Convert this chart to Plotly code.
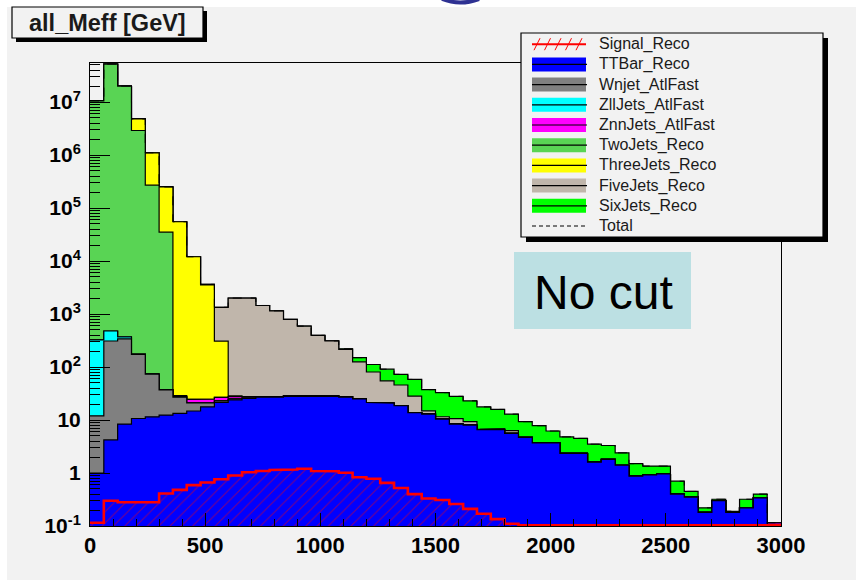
import numpy as np
import plotly.graph_objects as go

# 50 bins of 60 GeV on all_Meff
bin_edges = np.arange(0, 3001, 60)

signal_reco = [0.115, 0.30, 0.28, 0.28, 0.28, 0.41, 0.48, 0.59, 0.66, 0.76,
               0.90, 1.03, 1.09, 1.14, 1.16, 1.20, 1.09, 1.08, 1.01, 0.83,
               0.78, 0.65, 0.52, 0.40, 0.33, 0.31, 0.26, 0.21, 0.17, 0.135,
               0.11, 0.05, 0.03, 0, 0, 0, 0, 0, 0, 0,
               0, 0, 0, 0, 0, 0, 0, 0, 0, 0]
ttbar_reco = [0.885, 3.9, 8.1, 10.4, 11.2, 12.0, 12.8, 14.2, 17.1, 20.7,
              23.1, 24.5, 25.9, 25.9, 26.8, 26.3, 26.4, 26.9, 26.0, 24.2,
              20.7, 20.2, 18.2, 13.4, 12.6, 10.1, 8.1, 7.8, 6.4, 6.5,
              5.5, 4.65, 3.67, 3.7, 2.35, 2.35, 1.6, 1.8, 1.4, 0.87,
              0.92, 0.96, 0.40, 0.35, 0.18, 0.30, 0.18, 0.22, 0.34, 0]
wnjet_atlfast = [11, 305, 332, 163, 61.5, 24.6, 13.7, 6.2, 3.2, 1.5,
                 1.0, 0.5, 0.3, 0.2, 0.2, 0.2, 0.2, 0.2, 0.2, 0,
                 0, 0, 0, 0, 0, 0, 0, 0, 0, 0,
                 0, 0, 0, 0, 0, 0, 0, 0, 0, 0,
                 0, 0, 0, 0, 0, 0, 0, 0, 0, 0]
zlljets_atlfast = [312, 169, 30, 2, 1, 0.5, 0.3, 0.2, 0.2, 0.2,
                   0.2, 0.2, 0.2, 0, 0, 0, 0, 0, 0, 0,
                   0, 0, 0, 0, 0, 0, 0, 0, 0, 0,
                   0, 0, 0, 0, 0, 0, 0, 0, 0, 0,
                   0, 0, 0, 0, 0, 0, 0, 0, 0, 0]
znnjets_atlfast = [0, 0, 0, 0, 0, 0, 0.5, 3.3, 3.5, 3.5,
                   2.5, 1.5, 1.0, 0.5, 0.5, 0.5, 0.5, 0.5, 0.5, 0,
                   0, 0, 0, 0, 0, 0, 0, 0, 0, 0,
                   0, 0, 0, 0, 0, 0, 0, 0, 0, 0,
                   0, 0, 0, 0, 0, 0, 0, 0, 0, 0.115]
twojets_reco = [1.05e7, 5.2e7, 2.0e7, 2.9e6, 2.7e5, 3.5e4, 1, 0, 0, 0,
                0, 0, 0, 0, 0, 0, 0, 0, 0, 0,
                0, 0, 0, 0, 0, 0, 0, 0, 0, 0,
                0, 0, 0, 0, 0, 0, 0, 0, 0, 0,
                0, 0, 0, 0, 0, 0, 0, 0, 0, 0]
threejets_reco = [0, 0, 0, 1.9e6, 8.3e5, 2.15e5, 5.5e4, 1.2e4, 3.5e3, 282,
                  1, 0, 0, 0, 0, 0, 0, 0, 0, 0,
                  0, 0, 0, 0, 0, 0, 0, 0, 0, 0,
                  0, 0, 0, 0, 0, 0, 0, 0, 0, 0,
                  0, 0, 0, 0, 0, 0, 0, 0, 0, 0]
fivejets_reco = [0, 0, 0, 0, 0, 0, 0, 0, 100, 1030,
                 1970, 1970, 1420, 1120, 760, 562, 367, 282, 188, 100,
                 59, 34, 27, 14.5, 2.0, 1.1, 2.3, 1.3, 0.1, 0.1,
                 0.7, 0, 0, 0, 0, 0, 0, 0, 0, 0,
                 0, 0, 0, 0, 0, 0, 0, 0, 0, 0]
sixjets_reco = [0, 0, 0, 0, 0, 0, 0, 0, 0, 0,
                0, 0, 0, 0, 0, 0, 0, 0, 5, 25,
                31, 36, 27, 30, 22.5, 21.3, 17.3, 13.7, 11, 9.1,
                6.6, 4.6, 4.1, 2.5, 2.45, 2.15, 1.9, 1.5, 1.0, 0.63,
                0.43, 0.39, 0.3, 0.1, 0.04, 0.02, 0.01, 0.1, 0.06, 0]

series_names = ["Signal_Reco", "TTBar_Reco", "Wnjet_AtlFast", "ZllJets_AtlFast",
                "ZnnJets_AtlFast", "TwoJets_Reco", "ThreeJets_Reco",
                "FiveJets_Reco", "SixJets_Reco"]
series_colors = ["#ff0000", "#0000ff", "#808080", "#00ffff", "#ff00ff",
                 "#59d454", "#ffff00", "#c0b6ab", "#00ff00"]
series_values = [signal_reco, ttbar_reco, wnjet_atlfast, zlljets_atlfast,
                 znnjets_atlfast, twojets_reco, threejets_reco, fivejets_reco,
                 sixjets_reco]

y_tick_vals = [0.1, 1, 10, 1e2, 1e3, 1e4, 1e5, 1e6, 1e7]
y_tick_text = ["10<sup>-1</sup>", "1", "10", "10<sup>2</sup>", "10<sup>3</sup>",
               "10<sup>4</sup>", "10<sup>5</sup>", "10<sup>6</sup>", "10<sup>7</sup>"]
x_tick_vals = [0, 500, 1000, 1500, 2000, 2500, 3000]

Y_LOG_MIN, Y_LOG_MAX = -1.0, 7.736
BG = "#f2f2f2"
FONT = "Liberation Sans, Arial, Helvetica, sans-serif"

cumulative = np.cumsum(np.array(series_values, dtype=float), axis=0)
total = cumulative[-1]

step_x = np.repeat(bin_edges, 2)[1:-1]


def step_y(vals):
    return np.repeat(np.asarray(vals, dtype=float), 2)


fig = go.Figure()
floor_fill = 1e-4
floor_line = 10 ** (Y_LOG_MIN + 0.012)

# THStack style: draw the tallest cumulative first, each lower one on top
for i in range(len(series_names) - 1, -1, -1):
    ys = step_y(cumulative[i])
    px_ = np.concatenate([step_x, [bin_edges[-1], bin_edges[0]]])
    py_ = np.concatenate([np.maximum(ys, floor_fill), [floor_fill, floor_fill]])
    if i == 0:
        fig.add_trace(go.Scatter(
            x=px_, y=py_, mode="none", fill="toself",
            fillcolor="rgba(0,0,0,0)",
            fillpattern=dict(shape="/", fgcolor="#ff0000", bgcolor="rgba(0,0,0,0)",
                             size=8, solidity=0.13),
            hoverinfo="skip", showlegend=False))
        line = dict(color="#ff0000", width=2.6)
    else:
        fig.add_trace(go.Scatter(
            x=px_, y=py_, mode="none", fill="toself",
            fillcolor=series_colors[i], hoverinfo="skip", showlegend=False))
        line = dict(color="black", width=1.2)
    fig.add_trace(go.Scatter(
        x=step_x, y=np.maximum(ys, floor_line), mode="lines", line=line,
        name=series_names[i], showlegend=False))

fig.add_trace(go.Scatter(
    x=step_x, y=np.maximum(step_y(total), floor_line), mode="lines",
    line=dict(color="black", width=1, dash="dash"), name="Total",
    showlegend=False))

# pixel -> paper helpers for the decorations
PL, PR, PT, PB = 90, 781, 63, 526


def fx(x):
    return (x - PL) / (PR - PL)


def fy(y):
    return (PB - y) / (PB - PT)


shapes = []
annotations = []

# white strip around the canvas
shapes.append(dict(type="rect", xref="paper", yref="paper", x0=fx(0), x1=fx(856),
                   y0=fy(7), y1=fy(0), fillcolor="white", line=dict(width=0),
                   layer="below"))
shapes.append(dict(type="rect", xref="paper", yref="paper", x0=fx(0), x1=fx(7),
                   y0=fy(580), y1=fy(0), fillcolor="white", line=dict(width=0),
                   layer="below"))
shapes.append(dict(type="path", xref="paper", yref="paper",
                   path=f"M {fx(442)},{fy(-1)} Q {fx(460)},{fy(6)} {fx(479)},{fy(-1)}",
                   line=dict(color="#2e3192", width=4), layer="above"))

# title box
shapes.append(dict(type="rect", xref="paper", yref="paper", x0=fx(16), x1=fx(207),
                   y0=fy(42), y1=fy(11), fillcolor="black", line=dict(width=0)))
shapes.append(dict(type="rect", xref="paper", yref="paper", x0=fx(12), x1=fx(203),
                   y0=fy(38), y1=fy(7), fillcolor=BG, line=dict(color="black", width=1.2)))
annotations.append(dict(xref="paper", yref="paper", x=fx(107), y=fy(23),
                        text="all_Meff [GeV]", showarrow=False,
                        font=dict(family=FONT, size=23.5, color="#1a1a1a", weight="bold"),
                        xanchor="center", yanchor="middle"))

# "No cut" label
shapes.append(dict(type="rect", xref="paper", yref="paper", x0=fx(514), x1=fx(691),
                   y0=fy(329), y1=fy(252), fillcolor="#bce0e3", line=dict(width=0),
                   layer="above"))
annotations.append(dict(xref="paper", yref="paper", x=fx(603), y=fy(292),
                        text="No cut", showarrow=False,
                        font=dict(family=FONT, size=48, color="black"),
                        xanchor="center", yanchor="middle"))

# legend box
LX0, LX1, LY0, LY1 = 521, 823, 33, 237
shapes.append(dict(type="rect", xref="paper", yref="paper", x0=fx(LX0 + 5), x1=fx(LX1 + 5),
                   y0=fy(LY1 + 5), y1=fy(LY0 + 5), fillcolor="black",
                   line=dict(width=0), layer="above"))
shapes.append(dict(type="rect", xref="paper", yref="paper", x0=fx(LX0), x1=fx(LX1),
                   y0=fy(LY1), y1=fy(LY0), fillcolor=BG,
                   line=dict(color="black", width=1.2), layer="above"))

legend_names = series_names + ["Total"]
row0, row_step = 44.2, 20.2
sx0, sx1 = 532, 586
for k, name in enumerate(legend_names):
    yc = row0 + k * row_step
    if k == 0:
        shapes.append(dict(type="line", xref="paper", yref="paper", x0=fx(sx0), x1=fx(sx1),
                           y0=fy(yc), y1=fy(yc), line=dict(color="#ff0000", width=2),
                           layer="above"))
        for j in range(5):
            xs = sx0 + 2 + j * 10.5
            shapes.append(dict(type="line", xref="paper", yref="paper",
                               x0=fx(xs), x1=fx(xs + 6), y0=fy(yc + 6), y1=fy(yc - 6),
                               line=dict(color="#ff0000", width=1), layer="above"))
    elif name == "Total":
        shapes.append(dict(type="line", xref="paper", yref="paper", x0=fx(sx0), x1=fx(sx1),
                           y0=fy(yc), y1=fy(yc),
                           line=dict(color="black", width=1.2, dash="4px,3px"),
                           layer="above"))
    else:
        shapes.append(dict(type="rect", xref="paper", yref="paper", x0=fx(sx0), x1=fx(sx1),
                           y0=fy(yc + 7), y1=fy(yc - 7), fillcolor=series_colors[k],
                           line=dict(width=0), layer="above"))
        shapes.append(dict(type="line", xref="paper", yref="paper", x0=fx(sx0), x1=fx(sx1 + 1),
                           y0=fy(yc), y1=fy(yc), line=dict(color="black", width=1.2),
                           layer="above"))
    annotations.append(dict(xref="paper", yref="paper", x=fx(597), y=fy(yc),
                            text=name, showarrow=False,
                            font=dict(family=FONT, size=16, color="#1a1a1a"),
                            xanchor="left", yanchor="middle"))

minor_y = [m * 10.0 ** e for e in range(-1, 8) for m in range(2, 10)
           if np.log10(m * 10.0 ** e) < Y_LOG_MAX]

fig.update_layout(
    width=856, height=580,
    margin=dict(l=PL, r=856 - PR, t=PT, b=580 - PB),
    paper_bgcolor=BG, plot_bgcolor=BG,
    showlegend=False,
    shapes=shapes, annotations=annotations,
)
fig.update_xaxes(
    range=[0, 3000], tickmode="array", tickvals=x_tick_vals,
    ticks="inside", ticklen=13, tickwidth=1, tickcolor="black",
    minor=dict(ticks="inside", ticklen=7, dtick=100, tick0=0, tickcolor="black",
               tickwidth=1, showgrid=False),
    showline=True, mirror=True, linecolor="black", linewidth=1,
    showgrid=False, zeroline=False,
    tickfont=dict(family=FONT, size=22, color="black", weight="bold"),
)
fig.update_yaxes(
    type="log", range=[Y_LOG_MIN, Y_LOG_MAX], tickmode="array",
    tickvals=y_tick_vals, ticktext=y_tick_text,
    ticks="inside", ticklen=20, tickwidth=1, tickcolor="black",
    minor=dict(ticks="inside", ticklen=10, tickmode="array", tickvals=minor_y,
               tickcolor="black", tickwidth=1, showgrid=False),
    showline=True, mirror=True, linecolor="black", linewidth=1,
    showgrid=False, zeroline=False, ticklabelstandoff=4,
    tickfont=dict(family=FONT, size=21, color="black", weight="bold"),
)

fig.write_html("out.html")
